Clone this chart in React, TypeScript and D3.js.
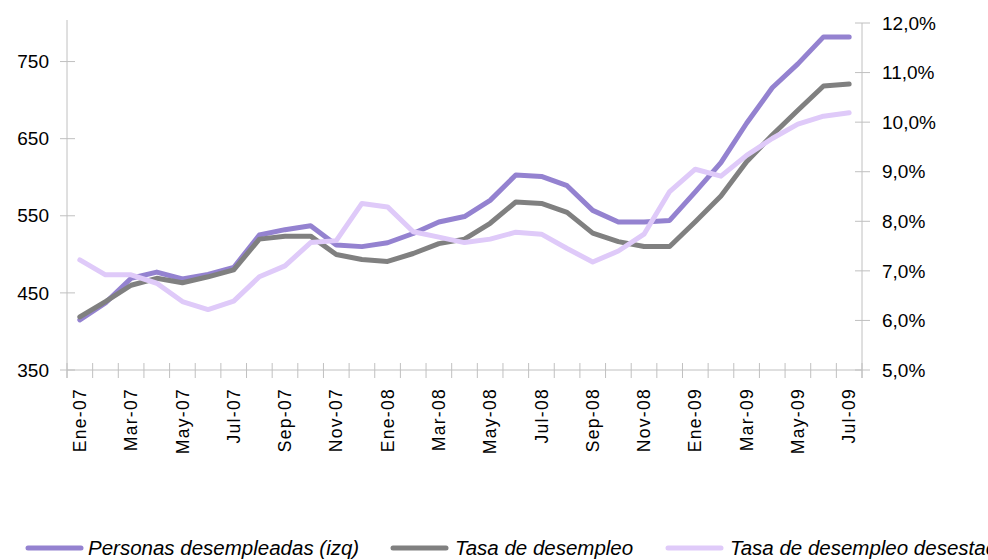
import * as d3 from 'd3';

// monthly categories, Ene-07 .. Jul-09
const months = ['Ene', 'Feb', 'Mar', 'Abr', 'May', 'Jun', 'Jul', 'Ago', 'Sep', 'Oct', 'Nov', 'Dic'];
const categories: string[] = [];
['07', '08', '09'].forEach((yy) => {
  months.forEach((m) => {
    if (yy === '09' && categories.length >= 31) return;
    categories.push(`${m}-${yy}`);
  });
});

// Personas desempleadas (miles, left axis)
const personas = [
  415, 437, 469, 477, 468, 474, 483, 525, 532, 537, 512, 510, 515, 527, 542,
  549, 570, 603, 601, 589, 557, 542, 542, 544, 581, 619, 670, 716, 747, 782, 782,
];
// Tasa de desempleo (%, right axis)
const tasa = [
  6.07, 6.38, 6.71, 6.85, 6.76, 6.88, 7.02, 7.64, 7.7, 7.7, 7.33, 7.23, 7.19, 7.35, 7.55,
  7.64, 7.96, 8.39, 8.36, 8.18, 7.76, 7.59, 7.49, 7.49, 7.99, 8.51, 9.2, 9.74, 10.24, 10.73, 10.77,
];
// Tasa de desempleo desestacionalizada (%, right axis)
const tasaDesest = [
  7.22, 6.92, 6.92, 6.75, 6.38, 6.22, 6.39, 6.88, 7.1, 7.57, 7.61, 8.36, 8.29, 7.79, 7.68,
  7.57, 7.64, 7.78, 7.74, 7.45, 7.18, 7.4, 7.74, 8.6, 9.05, 8.91, 9.33, 9.67, 9.96, 10.12, 10.19,
];

const leftTicks = [350, 450, 550, 650, 750];
const rightTicks = [5, 6, 7, 8, 9, 10, 11, 12];

const seriesNames = [
  'Personas desempleadas (izq)',
  'Tasa de desempleo',
  'Tasa de desempleo desestacionalizada',
];

const W = 988;
const H = 560;
const plot = { left: 67, right: 862, top: 23, bottom: 370 };
const axisColor = '#c0c0c0';
const colors = ['#9482d0', '#808080', '#dfcaf9'];
const font = '"Liberation Sans", Arial, sans-serif';

export default function App() {
  const x = d3.scaleBand<string>().domain(categories).range([plot.left, plot.right]).padding(0);
  const yLeft = d3.scaleLinear().domain([350, 800]).range([plot.bottom, plot.top]);
  const yRight = d3.scaleLinear().domain([5, 12]).range([plot.bottom, plot.top]);
  const cx = (i: number) => (x(categories[i]) || 0) + x.bandwidth() / 2;

  const lineLeft = d3.line<number>().x((_, i) => cx(i)).y((d) => yLeft(d));
  const lineRight = d3.line<number>().x((_, i) => cx(i)).y((d) => yRight(d));

  const paths = [lineLeft(personas), lineRight(tasa), lineRight(tasaDesest)];

  // band boundaries for x tick marks
  const xBounds = categories.map((c) => x(c) || 0).concat([plot.right]);

  const legendItems = [
    { lx: 28, tx: 88 },
    { lx: 393, tx: 455 },
    { lx: 668, tx: 730 },
  ];

  return (
    <div style={{ position: 'absolute', left: 0, top: 0 }}>
      <svg width={W} height={H} style={{ display: 'block', background: '#fff' }}>
        {/* left axis */}
        <line x1={plot.left} x2={plot.left} y1={plot.top - 3} y2={plot.bottom + 8} stroke={axisColor} />
        {leftTicks.map((t) => (
          <g key={t}>
            <line x1={plot.left - 7} x2={plot.left + 8} y1={yLeft(t)} y2={yLeft(t)} stroke={axisColor} />
            <text x={49} y={yLeft(t)} dy="0.35em" textAnchor="end" fontSize={19} fontFamily={font} fill="#000">
              {t}
            </text>
          </g>
        ))}

        {/* right axis */}
        <line x1={plot.right} x2={plot.right} y1={plot.top} y2={plot.bottom + 8} stroke={axisColor} />
        {rightTicks.map((t) => (
          <g key={t}>
            <line x1={plot.right - 7} x2={plot.right + 8} y1={yRight(t)} y2={yRight(t)} stroke={axisColor} />
            <text x={882} y={yRight(t)} dy="0.35em" fontSize={19} fontFamily={font} fill="#000">
              {t.toFixed(1).replace('.', ',') + '%'}
            </text>
          </g>
        ))}

        {/* x axis */}
        <line x1={plot.left} x2={plot.right} y1={plot.bottom} y2={plot.bottom} stroke={axisColor} />
        {xBounds.map((bx, i) => (
          <line key={i} x1={bx} x2={bx} y1={plot.bottom - 7} y2={plot.bottom + 8} stroke={axisColor} />
        ))}
        {categories.map((c, i) =>
          i % 2 === 0 ? (
            <text
              key={c}
              transform={`translate(${cx(i)},${plot.bottom + 18}) rotate(-90)`}
              dy="0.35em"
              textAnchor="end"
              fontSize={17.5}
              letterSpacing={1.3}
              fontFamily={font}
              fill="#000"
            >
              {c}
            </text>
          ) : null
        )}

        {/* series */}
        {paths.map((d, i) => (
          <path
            key={i}
            d={d || ''}
            fill="none"
            stroke={colors[i]}
            strokeWidth={5}
            strokeLinejoin="round"
            strokeLinecap="round"
          />
        ))}

        {/* legend */}
        {legendItems.map((it, i) => (
          <g key={i}>
            <line x1={it.lx} x2={it.lx + 53} y1={548} y2={548} stroke={colors[i]} strokeWidth={5} strokeLinecap="round" />
            <text x={it.tx} y={548} dy="0.35em" fontSize={20.5} fontStyle="italic" fontFamily={font} fill="#000">
              {seriesNames[i]}
            </text>
          </g>
        ))}
      </svg>
    </div>
  );
}
